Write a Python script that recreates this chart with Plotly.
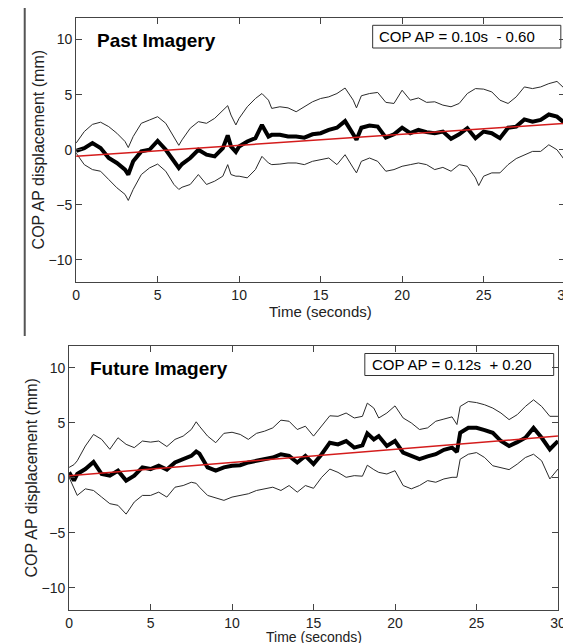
import plotly.graph_objects as go

W, H = 571, 643

# ---------------- data ----------------
t_past = [0, 0.5, 1, 1.5, 2, 2.5, 3, 3.2, 3.5, 4, 4.5, 5, 5.5, 6, 6.3, 6.5, 7, 7.5, 8, 8.5,
          9, 9.3, 9.5, 9.8, 10, 10.5, 11, 11.4, 11.8, 12, 12.5, 13, 13.5, 14, 14.5, 15, 15.5, 16, 16.5, 17,
          17.2, 17.5, 18, 18.5, 19, 19.5, 20, 20.5, 21, 21.5, 22, 22.5, 23, 23.5, 24, 24.5, 24.7, 25, 25.5, 26,
          26.5, 27, 27.5, 28, 28.5, 29, 29.5, 30]
mean_past = [-0.1, 0.15, 0.6, 0.15, -0.75, -1.2, -1.8, -2.25, -1.05, -0.15, 0.0, 0.8, 0.0, -1.05, -1.65, -1.3, -0.75, 0.0, -0.45, -0.6,
             0.15, 1.3, 0.3, -0.2, 0.3, 0.75, 1.05, 2.25, 1.2, 1.35, 1.35, 1.2, 1.2, 1.1, 1.4, 1.5, 1.8, 2.0, 2.6, 1.4,
             0.9, 2.0, 2.2, 2.1, 1.1, 1.4, 2.0, 1.5, 1.8, 1.6, 1.5, 1.65, 1.0, 1.4, 1.95, 1.05, 1.3, 1.65, 1.5, 1.05,
             2.0, 2.1, 2.75, 2.55, 2.7, 3.2, 3.0, 2.4]
upper_past = [0.6, 1.65, 2.3, 2.5, 2.1, 1.5, 0.75, 0.2, 1.2, 2.4, 2.7, 3.0, 2.4, 1.2, 0.4, 0.9, 1.95, 2.55, 2.4, 2.85,
              3.6, 4.0, 3.15, 2.25, 2.85, 3.9, 4.65, 5.1, 4.5, 3.75, 3.9, 3.8, 3.45, 3.9, 4.35, 4.65, 4.8, 5.1, 5.6, 4.5,
              3.8, 4.9, 5.1, 5.2, 4.3, 4.2, 5.4, 4.5, 4.7, 4.3, 4.35, 4.05, 3.9, 4.2, 5.1, 5.55, 5.55, 5.5, 5.25, 4.5,
              4.2, 4.8, 5.7, 5.55, 5.7, 6.0, 6.2, 5.5]
lower_past = [-0.3, -1.35, -1.8, -1.95, -2.7, -3.45, -4.05, -4.6, -3.6, -2.25, -1.65, -1.3, -1.95, -3.15, -3.6, -3.4, -3.15, -2.25, -3.15, -2.85,
              -2.4, -1.35, -2.25, -2.4, -2.4, -2.55, -1.8, -0.6, -1.2, -1.35, -1.3, -1.2, -1.2, -1.35, -1.05, -0.9, -0.75, -1.35, -0.45, -1.65,
              -2.1, -1.05, -0.75, -1.05, -1.95, -1.8, -1.5, -1.35, -1.2, -1.35, -1.8, -1.6, -1.95, -1.35, -1.5, -2.55, -3.25, -2.4, -2.1, -2.1,
              -1.35, -0.8, -0.45, -0.15, -0.15, 0.45, 0.0, -1.0]

t_future = [0, 0.3, 0.5, 1, 1.5, 2, 2.5, 3, 3.5, 4, 4.5, 5, 5.5, 6, 6.5, 7, 7.5, 7.8, 8, 8.5,
            9, 9.5, 10, 10.5, 11, 11.5, 12, 12.5, 13, 13.5, 14, 14.5, 15, 15.5, 16, 16.5, 17, 17.5, 18, 18.3,
            18.7, 19, 19.5, 20, 20.5, 21, 21.5, 22, 22.5, 23, 23.5, 23.8, 24, 24.5, 25, 25.5, 26, 26.5, 27, 27.5,
            28, 28.5, 29, 29.5, 30]
mean_future = [0.5, -0.25, 0.35, 0.8, 1.45, 0.35, 0.2, 0.65, -0.25, 0.2, 0.95, 0.8, 1.1, 0.75, 1.4, 1.7, 2.0, 2.4, 2.2, 0.95,
               0.65, 0.95, 1.1, 1.15, 1.4, 1.55, 1.7, 1.85, 2.15, 2.0, 1.4, 2.0, 1.25, 2.15, 3.2, 3.05, 3.35, 2.75, 2.95, 4.05,
               3.5, 3.8, 2.9, 3.35, 2.3, 2.0, 1.7, 1.95, 2.15, 2.55, 2.75, 2.35, 4.1, 4.55, 4.55, 4.35, 4.1, 3.35, 2.9, 3.25,
               3.65, 4.55, 3.65, 2.6, 3.35]
upper_future = [0.95, 1.2, 1.55, 2.9, 3.95, 3.5, 2.6, 3.65, 3.05, 2.75, 3.35, 3.25, 3.35, 2.85, 3.5, 3.8, 4.4, 5.1, 4.7, 3.8,
                3.2, 4.05, 4.15, 3.95, 3.5, 4.05, 4.25, 4.55, 5.25, 5.15, 4.4, 4.7, 3.8, 4.7, 5.65, 5.6, 5.9, 5.45, 5.6, 6.8,
                6.35, 5.45, 5.9, 6.55, 5.45, 5.0, 4.4, 4.55, 5.15, 5.35, 5.55, 4.85, 6.5, 6.95, 6.85, 6.65, 6.35, 5.9, 5.3, 5.75,
                6.5, 7.1, 6.5, 5.6, 5.6]
lower_future = [0.05, -1.0, -1.6, -1.0, -1.15, -1.75, -2.35, -2.5, -3.3, -2.2, -1.6, -1.6, -1.3, -1.75, -0.85, -0.7, -0.4, -0.5, -0.85, -1.6,
                -1.8, -2.05, -1.75, -1.6, -1.45, -1.15, -1.0, -0.85, -1.15, -0.7, -1.3, -0.7, -0.95, 0.05, 0.8, 0.5, 0.05, 0.2, 0.15, 1.15,
                0.75, 0.5, 0.35, 0.65, -0.7, -1.0, -0.7, -0.25, -0.4, -0.1, 0.05, 0.05, 1.7, 2.15, 2.3, 1.85, 1.1, 0.95, 0.75, 1.25,
                1.85, 2.15, 1.55, -0.1, 0.8]

panel_titles = ["Past Imagery", "Future Imagery"]
fit_slope = [0.10, 0.12]
fit_intercept = [-0.60, 0.20]
equations = ["COP AP = 0.10s  - 0.60", "COP AP = 0.12s  + 0.20"]
x_ticks = [0, 5, 10, 15, 20, 25, 30]
y_ticks = [-10, -5, 0, 5, 10]
x_title = "Time (seconds)"
y_title = "COP AP displacement (mm)"

for a, b in [(t_past, mean_past), (t_past, upper_past), (t_past, lower_past),
             (t_future, mean_future), (t_future, upper_future), (t_future, lower_future)]:
    assert len(a) == len(b), (len(a), len(b))

# ---------------- figure ----------------
def px(x):
    return x / W

def py(y):
    return 1 - y / H

FONT = "Arial, Liberation Sans, sans-serif"
fig = go.Figure()

panels = [
    dict(t=t_past, m=mean_past, u=upper_past, l=lower_past, xa="x", ya="y",
         xd=[px(65.5), px(565)], yd=[py(274), py(9.5)]),
    dict(t=t_future, m=mean_future, u=upper_future, l=lower_future, xa="x2", ya="y2",
         xd=[px(58.3), px(557.7)], yd=[py(601.7), py(338.0)]),
]

for i, p in enumerate(panels):
    for series in (p["u"], p["l"]):
        fig.add_trace(go.Scatter(x=p["t"], y=series, mode="lines", xaxis=p["xa"], yaxis=p["ya"],
                                 line=dict(color="#2a2a2a", width=1), showlegend=False, hoverinfo="skip"))
    fig.add_trace(go.Scatter(x=p["t"], y=p["m"], mode="lines", xaxis=p["xa"], yaxis=p["ya"],
                             line=dict(color="black", width=4), showlegend=False))
    tfit = [p["t"][0], p["t"][-1]]
    fig.add_trace(go.Scatter(x=tfit, y=[fit_slope[i] * t + fit_intercept[i] for t in tfit], mode="lines",
                             xaxis=p["xa"], yaxis=p["ya"], line=dict(color="#d41c1c", width=1.5),
                             showlegend=False))

axis_common = dict(showgrid=False, zeroline=False, showline=True, linecolor="#444", linewidth=1,
                   mirror="ticks", ticks="inside", ticklen=6, tickcolor="#444",
                   tickfont=dict(family=FONT, size=14, color="#222"))

layout_axes = {}
for i, p in enumerate(panels):
    sfx = "" if i == 0 else "2"
    layout_axes["xaxis" + sfx] = dict(axis_common, domain=p["xd"], range=[0, 30], tickvals=x_ticks,
                                      anchor="y" + sfx, fixedrange=True)
    layout_axes["yaxis" + sfx] = dict(axis_common, domain=p["yd"], range=[-12, 12], tickvals=y_ticks,
                                      anchor="x" + sfx, fixedrange=True)

fig.update_layout(width=W, height=H, margin=dict(l=0, r=0, t=0, b=0),
                  paper_bgcolor="white", plot_bgcolor="white", **layout_axes)

annots = []
shapes = []
# panel titles, equations, axis titles
title_pos = [(84.4, 32.3), (77.2, 360.5)]
eq_pos = [(373.0, 28.7), (366.0, 356.5)]
box_pos = [(368.4, 17.3, 560.6, 40.0), (360.4, 345.5, 553.3, 367.5)]
ytitle_x = [27.3, 19.0]
ytitle_y = [141.7, 470.0]
xtitle_pos = [(315.2, 303.5), (308.0, 629.0)]
xtitle_size = [15, 14]
for i in range(2):
    annots.append(dict(x=px(title_pos[i][0]), y=py(title_pos[i][1]), xref="paper", yref="paper",
                       text="<b>" + panel_titles[i] + "</b>", showarrow=False, xanchor="left", yanchor="middle",
                       font=dict(family=FONT, size=19, color="black")))
    annots.append(dict(x=px(eq_pos[i][0]), y=py(eq_pos[i][1]), xref="paper", yref="paper",
                       text=equations[i].replace("  ", "&nbsp; "), showarrow=False, xanchor="left", yanchor="middle",
                       font=dict(family=FONT, size=15, color="black")))
    x0, y0, x1, y1 = box_pos[i]
    shapes.append(dict(type="rect", xref="paper", yref="paper", x0=px(x0), x1=px(x1), y0=py(y0), y1=py(y1),
                       line=dict(color="#333", width=1), fillcolor="white", layer="below"))
    annots.append(dict(x=px(ytitle_x[i]), y=py(ytitle_y[i]), xref="paper", yref="paper", text=y_title,
                       textangle=-90, showarrow=False, xanchor="center", yanchor="middle",
                       font=dict(family=FONT, size=16, color="#222")))
    annots.append(dict(x=px(xtitle_pos[i][0]), y=py(xtitle_pos[i][1]), xref="paper", yref="paper", text=x_title,
                       showarrow=False, xanchor="center", yanchor="middle",
                       font=dict(family=FONT, size=xtitle_size[i], color="#222")))

# page edge line at left of the upper panel
shapes.append(dict(type="line", xref="paper", yref="paper", x0=px(13), x1=px(13), y0=py(0), y1=py(328),
                   line=dict(color="#555", width=2)))

fig.update_layout(annotations=annots, shapes=shapes)
fig.write_html("out.html")
